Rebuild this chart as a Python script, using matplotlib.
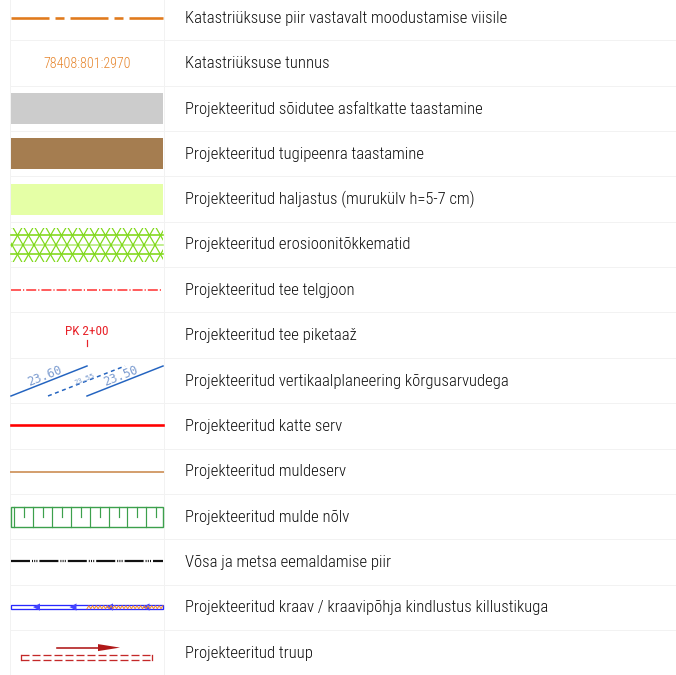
import matplotlib
matplotlib.use("Agg")
import matplotlib.pyplot as plt
from matplotlib.patches import Rectangle, Polygon
import numpy as np

plt.rcParams['lines.scale_dashes'] = False
plt.rcParams['font.family'] = ['Roboto Condensed', 'DejaVu Sans']

labels = [
    "Katastriüksuse piir vastavalt moodustamise viisile",
    "Katastriüksuse tunnus",
    "Projekteeritud sõidutee asfaltkatte taastamine",
    "Projekteeritud tugipeenra taastamine",
    "Projekteeritud haljastus (murukülv h=5-7 cm)",
    "Projekteeritud erosioonitõkkematid",
    "Projekteeritud tee telgjoon",
    "Projekteeritud tee piketaaž",
    "Projekteeritud vertikaalplaneering kõrgusarvudega",
    "Projekteeritud katte serv",
    "Projekteeritud muldeserv",
    "Projekteeritud mulde nõlv",
    "Võsa ja metsa eemaldamise piir",
    "Projekteeritud kraav / kraavipõhja kindlustus killustikuga",
    "Projekteeritud truup",
]
parcel_id = "78408:801:2970"
station_label = "PK 2+00"
elev_labels = ["23.60", "23.55", "23.50"]

W, H = 676, 675
fig = plt.figure(figsize=(W / 100, H / 100), dpi=100)
ax = fig.add_axes([0, 0, 1, 1])
ax.set_xlim(0, W)
ax.set_ylim(H, 0)
ax.axis('off')

PT = 0.72  # px -> pt
row_h = 45.35
y0 = 17.7
def yc(i):
    return y0 + row_h * i

X0, X1 = 11, 163
XM = (X0 + X1) / 2

# faint grid
grid_c = '#f2f2f2'
for i in range(len(labels) - 1):
    yy = yc(i) + row_h / 2
    ax.plot([10, W], [yy, yy], color=grid_c, lw=1 * PT, zorder=0)
for xx in (10, 163.5):
    ax.plot([xx, xx], [0, H], color=grid_c, lw=1 * PT, zorder=0)

# labels
for i, lab in enumerate(labels):
    ax.text(185, yc(i) + 0.5, lab, fontsize=16.6 * PT, color='#0e0e0e',
            va='center', ha='left', fontweight='light')

# 1. orange boundary
ax.plot([X0, X1], [yc(0), yc(0)], color='#e07a1c', lw=2.6 * PT,
        dashes=(38 * PT, 6 * PT, 9 * PT, 6 * PT), solid_capstyle='butt',
        dash_capstyle='butt')

# 2. parcel id
ax.text(XM, yc(1) + 0.5, parcel_id, fontsize=14 * PT, color='#e6842a',
        ha='center', va='center', fontweight='light')

# 3-5 filled bars
fills = ['#cccccc', '#a57d50', '#e5ffa6']
for k, c in enumerate(fills):
    i = 2 + k
    ax.add_patch(Rectangle((X0, yc(i) - 15.5), X1 - X0, 31, facecolor=c,
                           edgecolor='none'))

# 6. erosion mats lattice
i = 5
ymid = yc(i) + 0.5
clip = Rectangle((X0, ymid - 17), X1 - X0, 34, transform=ax.transData,
                 facecolor='none', edgecolor='none')
ax.add_patch(clip)
green = '#7fd818'
for dy, c in ((-9.5, green), (0, '#b4ec78'), (9.5, green)):
    ax.plot([X0, X1], [ymid + dy, ymid + dy], color=c, lw=1.6 * PT)
m = np.sqrt(3)
for xv in np.arange(-10, 190, 11.0):
    for s in (1, -1):
        xs = np.array([xv - 18 / m, xv + 18 / m])
        ys = ymid + s * m * (xs - xv)
        ln, = ax.plot(xs, ys, color=green, lw=1.2 * PT)
        ln.set_clip_path(clip)

# 7. road axis
ax.plot([X0, X1], [yc(6), yc(6)], color='#ff2a2a', lw=1.5 * PT,
        dashes=(10 * PT, 2 * PT, 1.2 * PT, 2 * PT))

# 8. station
ax.text(XM, yc(7) - 4, station_label, fontsize=13.2 * PT, color='#e8232a',
        ha='center', va='center')
ax.plot([XM - 0.5, XM - 0.5], [yc(7) + 4.5, yc(7) + 11], color='#e8232a',
        lw=1.2 * PT)

# 9. vertical planning
i = 8
yb, yt = yc(i) + 15.5, yc(i) - 14.5
blue = '#2464c0'
ax.plot([X0, 87], [yb, yt], color=blue, lw=1.5 * PT)
ax.plot([48, 125], [yb, yt], color=blue, lw=1.5 * PT, dashes=(4 * PT, 3.5 * PT))
ax.plot([87, X1], [yb, yt], color=blue, lw=1.5 * PT)
ang = np.degrees(np.arctan2(yb - yt, 76))
ax.text(45, yc(i) - 4.5, elev_labels[0], fontsize=12 * PT, color='#7c9cd0',
        rotation=ang, ha='center', va='center', family='DejaVu Sans Mono')
ax.text(85, yc(i) - 1.5, elev_labels[1], fontsize=7 * PT, color='#7c9cd0',
        rotation=ang, ha='center', va='center', family='DejaVu Sans Mono')
ax.text(121, yc(i) - 4.5, elev_labels[2], fontsize=12 * PT, color='#7c9cd0',
        rotation=ang, ha='center', va='center', family='DejaVu Sans Mono')

# 10. pavement edge
ax.plot([X0, X1], [yc(9) - 1, yc(9) - 1], color='#ff0000', lw=2.6 * PT)
# 11. embankment edge
ax.plot([X0, X1], [yc(10) + 0.5, yc(10) + 0.5], color='#d4a070', lw=2 * PT)

# 12. embankment slope
i = 11
gtop, gbot = 507, 526.5
gc = '#3ca04c'
ax.add_patch(Rectangle((X0, gtop), X1 - X0, gbot - gtop, facecolor='none',
                       edgecolor=gc, lw=1.4 * PT))
for xv in np.arange(14, X1 - 2, 18.9):
    ax.plot([xv, xv], [gtop, gbot], color=gc, lw=1.2 * PT)
for xv in np.arange(24, X1 - 2, 18.9):
    ax.plot([xv, xv], [gtop, gtop + 9.5], color=gc, lw=1.2 * PT)

# 13. clearing boundary
ax.plot([X0, X1], [yc(12) - 0.5, yc(12) - 0.5], color='#111111', lw=2.2 * PT,
        dashes=(19 * PT, 2 * PT, 1 * PT, 1.2 * PT, 1 * PT, 1.2 * PT, 1 * PT, 2 * PT))

# 14. ditch
i = 13
ytop, ybot = yc(i) - 2, yc(i) + 1.5
bl = '#2828ff'
ax.add_patch(Rectangle((X0, ytop), X1 - X0, ybot - ytop, facecolor='none',
                       edgecolor=bl, lw=1.3 * PT))
zx = np.arange(87, X1, 1.85)
zy = np.where(np.arange(len(zx)) % 2 == 0, ybot, ytop + 0.5)
ax.plot(zx, zy, color='#f08a30', lw=1 * PT)
for xt in (33, 69.5, 106, 142.5):
    ax.add_patch(Polygon([[xt, yc(i) - 0.2], [xt + 7, yc(i) - 3.8],
                          [xt + 7, yc(i) + 3.4]], closed=True,
                         facecolor='#4444ff', edgecolor='none'))

# 15. culvert
i = 14
rc = '#b01818'
ya = yc(i) - 5
ax.plot([57, 99], [ya, ya], color=rc, lw=1.6 * PT)
ax.add_patch(Polygon([[98, ya - 3.5], [120, ya], [98, ya + 3.5]], closed=True,
                     facecolor=rc, edgecolor='none'))
rx0, rx1, ry0, ry1 = 21, 152, yc(i) + 2, yc(i) + 7
dc = '#c42828'
for yy in (ry0, ry1):
    ax.plot([rx0, rx1], [yy, yy], color=dc, lw=1.3 * PT,
            dashes=(8 * PT, 3 * PT))
for xx in (rx0, rx1):
    ax.plot([xx, xx], [ry0, ry1], color=dc, lw=1.3 * PT)

fig.savefig("out.png", dpi=100)
